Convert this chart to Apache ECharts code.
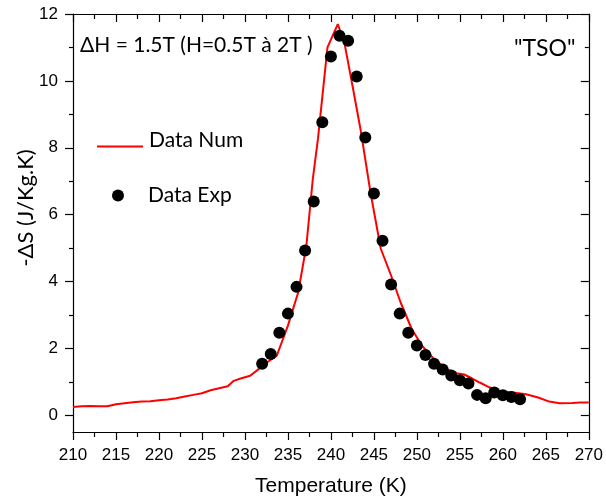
<!DOCTYPE html>
<html>
<head>
<meta charset="utf-8">
<script src="https://cdn.jsdelivr.net/npm/echarts@6/dist/echarts.min.js"></script>
<style>html,body{margin:0;padding:0;background:#fff}#c{width:606px;height:502px}</style>
</head>
<body>
<div id="c"></div>
<script>
// Numerical curve (Data Num)
const numT = [210,211,212,213,214,215,216,217,218,219,220,221,222,223,224,225,226,227,228,228.7,229.5,230.6,231.6,232,233.7,235,236.2,237.15,237.9,238.5,239.6,240.8,241.6,242.5,243.5,244.6,245.8,247,248.1,249.4,250.6,252,253.5,254.6,255.5,256.2,257.3,258.5,259.6,261.2,262.7,264.1,265.4,266.6,268.1,269,270];
const numDS = [0.25,0.27,0.28,0.27,0.27,0.33,0.36,0.39,0.41,0.42,0.45,0.47,0.51,0.56,0.61,0.66,0.75,0.81,0.87,1.03,1.10,1.18,1.38,1.48,1.78,2.68,3.68,5.08,7.08,8.28,11.0,11.7,11.1,9.87,8.47,6.67,4.98,4.18,3.38,2.58,2.08,1.68,1.38,1.26,1.22,1.13,0.98,0.83,0.73,0.68,0.63,0.53,0.41,0.36,0.37,0.38,0.38];
// Experimental points (Data Exp)
const expT = [232,233,234,235,236,237,238,239,240,241,242,243,244,245,246,247,248,249,250,251,252,253,254,255,256,257,258,259,260,261,262];
const expDS = [1.54,1.83,2.47,3.04,3.84,4.93,6.39,8.76,10.73,11.35,11.20,10.13,8.31,6.63,5.22,3.91,3.04,2.47,2.09,1.80,1.54,1.37,1.19,1.05,0.95,0.61,0.51,0.68,0.60,0.55,0.48];
const xTicks = [210,215,220,225,230,235,240,245,250,255,260,265,270];
const yTicks = [0,2,4,6,8,10,12];
const yMinorTicks = [1,3,5,7,9,11];
const titleText = '\u0394H = 1.5T (H=0.5T \u00e0 2T )';
const tagText = '"TSO"';
const xName = 'Temperature (K)';
const yName = '-\u0394S (J/Kg.K)';

const labelFont = 'Liberation Sans, Arial, sans-serif';
const textFont = 'Lato, Open Sans, sans-serif';
const black = '#000';
const tickStyle = {color:black, width:1.2};

const chart = echarts.init(document.getElementById('c'), null, {renderer:'canvas'});
const axisLine = {show:true, onZero:false, lineStyle:{color:black, width:1.2}};

function yAxisDef(position, inside, values, len, withLine, withLabel) {
  return {
    type:'value', min:-0.5, max:12, position:position,
    axisLine: withLine ? axisLine : {show:false},
    axisTick:{show:true, inside:inside, length:len, lineStyle:tickStyle, customValues:values},
    splitLine:{show:false},
    axisLabel: withLabel ? {show:true, color:black, fontSize:17, fontFamily:labelFont, margin:15, customValues:values}
                         : {show:false}
  };
}

chart.setOption({
  animation:false,
  backgroundColor:'#fff',
  grid:{left:73, right:13, top:14, bottom:70},
  xAxis:[{
    type:'value', min:210, max:270, interval:5, position:'bottom',
    axisLine:axisLine,
    axisTick:{show:true, inside:false, length:8, lineStyle:tickStyle},
    minorTick:{show:true, splitNumber:2, length:5, lineStyle:tickStyle},
    splitLine:{show:false},
    axisLabel:{show:true, color:black, fontSize:17, fontFamily:labelFont, margin:15,
      formatter:v=>xTicks.includes(v)?String(v):''},
    name:xName, nameLocation:'middle', nameGap:44,
    nameTextStyle:{color:black, fontSize:21, fontFamily:labelFont}
  },{
    type:'value', min:210, max:270, interval:5, position:'top',
    axisLine:axisLine,
    axisTick:{show:true, inside:true, length:8, lineStyle:tickStyle},
    minorTick:{show:true, splitNumber:2, length:5, lineStyle:tickStyle},
    splitLine:{show:false}, axisLabel:{show:false}
  }],
  yAxis:[
    yAxisDef('left', false, yTicks, 8, true, true),
    yAxisDef('left', false, yMinorTicks, 4, false, false),
    yAxisDef('right', true, yTicks, 8, true, false),
    yAxisDef('right', true, yMinorTicks, 4, false, false)
  ],
  legend:[{
    data:[{name:'Data Num', icon:'rect'}], left:97, top:130, orient:'vertical', padding:0,
    itemWidth:46, itemHeight:2,
    formatter:'{t|{name}}',
    textStyle:{color:black, fontSize:21, fontFamily:textFont, padding:[0,0,0,1],
      rich:{t:{fontSize:21, fontFamily:textFont, color:black, padding:[0,0,12,0]}}}
  },{
    data:[{name:'Data Exp', icon:'circle'}], left:112, top:185, orient:'vertical', padding:0,
    itemWidth:36, itemHeight:12,
    textStyle:{color:black, fontSize:21, fontFamily:textFont, padding:[0,0,0,7]}
  }],
  graphic:[
    {type:'text', left:80, top:35, style:{text:titleText, fill:black, font:'21px '+textFont}},
    {type:'text', left:514, top:37, style:{text:tagText, fill:black, font:'23px '+textFont}},
    {type:'text', x:26, y:208, rotation:Math.PI/2,
     style:{text:yName, fill:black, font:'22px '+textFont, align:'center', verticalAlign:'middle'}}
  ],
  series:[
    {name:'Data Num', type:'line', xAxisIndex:0, yAxisIndex:0,
     data:numT.map((t,i)=>[t,numDS[i]]),
     symbol:'none', showSymbol:false, smooth:false,
     lineStyle:{color:'#ff0000', width:2}, itemStyle:{color:'#ff0000'}, z:2},
    {name:'Data Exp', type:'scatter', xAxisIndex:0, yAxisIndex:0,
     data:expT.map((t,i)=>[t,expDS[i]]),
     symbol:'circle', symbolSize:12, itemStyle:{color:black, opacity:1}, z:3}
  ]
});
</script>
</body>
</html>
